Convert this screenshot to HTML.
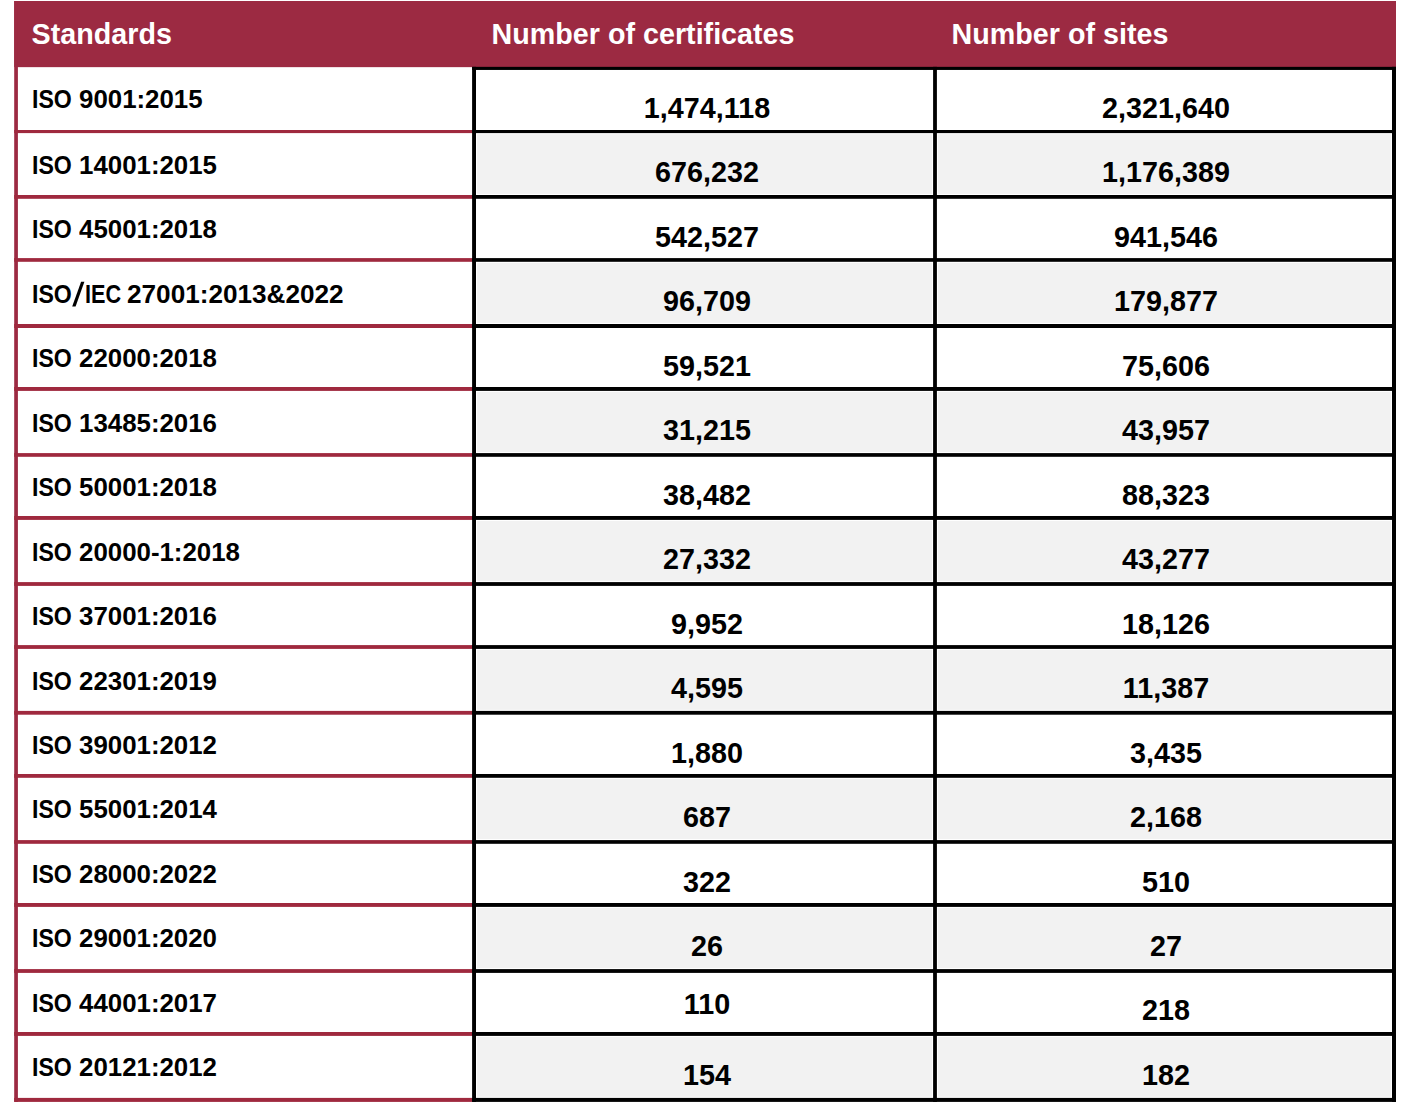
<!DOCTYPE html>
<html lang="en"><head><meta charset="utf-8"><title>ISO Survey - certificates and sites</title>
<style>
html,body{margin:0;padding:0;background:#fff;}
body{width:1416px;height:1116px;position:relative;overflow:hidden;font-family:"Liberation Sans",sans-serif;font-weight:bold;color:#000;}
div{position:absolute;white-space:nowrap;line-height:40px;}
.h{font-size:28.7px;color:#fff;}
.a{font-size:25px;transform-origin:0 0;}
.c{width:0;height:0;}
.n{position:absolute;left:0;top:0;display:block;font-size:28.6px;letter-spacing:0px;transform:translateX(-50%) scaleX(1.005);white-space:nowrap;line-height:40px;}
</style></head>
<body>
<svg width="1416" height="1116" viewBox="0 0 1416 1116" style="position:absolute;left:0;top:0">
<rect x="14.2" y="1" width="1381.8" height="66.15" fill="#9C2A42"/>
<rect x="477.1" y="134.2" width="454.9" height="59.7" fill="#F2F2F2"/>
<rect x="938" y="134.2" width="452.9" height="59.7" fill="#F2F2F2"/>
<rect x="477.1" y="262.9" width="454.9" height="60" fill="#F2F2F2"/>
<rect x="938" y="262.9" width="452.9" height="60" fill="#F2F2F2"/>
<rect x="477.1" y="392" width="454.9" height="60" fill="#F2F2F2"/>
<rect x="938" y="392" width="452.9" height="60" fill="#F2F2F2"/>
<rect x="477.1" y="521" width="454.9" height="60" fill="#F2F2F2"/>
<rect x="938" y="521" width="452.9" height="60" fill="#F2F2F2"/>
<rect x="477.1" y="650" width="454.9" height="59.8" fill="#F2F2F2"/>
<rect x="938" y="650" width="452.9" height="59.8" fill="#F2F2F2"/>
<rect x="477.1" y="778.9" width="454.9" height="60.1" fill="#F2F2F2"/>
<rect x="938" y="778.9" width="452.9" height="60.1" fill="#F2F2F2"/>
<rect x="477.1" y="908" width="454.9" height="60" fill="#F2F2F2"/>
<rect x="938" y="908" width="452.9" height="60" fill="#F2F2F2"/>
<rect x="477.1" y="1037" width="454.9" height="59.8" fill="#F2F2F2"/>
<rect x="938" y="1037" width="452.9" height="59.8" fill="#F2F2F2"/>
<rect x="14.2" y="1" width="3.7" height="1100.9" fill="#9C2A42"/>
<rect x="14.2" y="130" width="457.9" height="3.1" fill="#9F293E"/>
<rect x="14.2" y="195" width="457.9" height="3.8" fill="#9F293E"/>
<rect x="14.2" y="258.1" width="457.9" height="3.7" fill="#9F293E"/>
<rect x="14.2" y="324" width="457.9" height="4" fill="#9F293E"/>
<rect x="14.2" y="387" width="457.9" height="3.9" fill="#9F293E"/>
<rect x="14.2" y="453.1" width="457.9" height="3.7" fill="#9F293E"/>
<rect x="14.2" y="516" width="457.9" height="3.9" fill="#9F293E"/>
<rect x="14.2" y="582.1" width="457.9" height="3.8" fill="#9F293E"/>
<rect x="14.2" y="645.1" width="457.9" height="3.8" fill="#9F293E"/>
<rect x="14.2" y="710.9" width="457.9" height="3.8" fill="#9F293E"/>
<rect x="14.2" y="774" width="457.9" height="3.8" fill="#9F293E"/>
<rect x="14.2" y="840.1" width="457.9" height="3.7" fill="#9F293E"/>
<rect x="14.2" y="903" width="457.9" height="3.9" fill="#9F293E"/>
<rect x="14.2" y="969.1" width="457.9" height="3.8" fill="#9F293E"/>
<rect x="14.2" y="1032" width="457.9" height="3.9" fill="#9F293E"/>
<rect x="14.2" y="1097.9" width="457.9" height="4" fill="#9F293E"/>
<rect x="472.1" y="66.85" width="923.9" height="3.1" fill="#000"/>
<rect x="472.1" y="130" width="923.9" height="3.1" fill="#000"/>
<rect x="472.1" y="195" width="923.9" height="3.8" fill="#000"/>
<rect x="472.1" y="258.1" width="923.9" height="3.7" fill="#000"/>
<rect x="472.1" y="324" width="923.9" height="4" fill="#000"/>
<rect x="472.1" y="387" width="923.9" height="3.9" fill="#000"/>
<rect x="472.1" y="453.1" width="923.9" height="3.7" fill="#000"/>
<rect x="472.1" y="516" width="923.9" height="3.9" fill="#000"/>
<rect x="472.1" y="582.1" width="923.9" height="3.8" fill="#000"/>
<rect x="472.1" y="645.1" width="923.9" height="3.8" fill="#000"/>
<rect x="472.1" y="710.9" width="923.9" height="3.8" fill="#000"/>
<rect x="472.1" y="774" width="923.9" height="3.8" fill="#000"/>
<rect x="472.1" y="840.1" width="923.9" height="3.7" fill="#000"/>
<rect x="472.1" y="903" width="923.9" height="3.9" fill="#000"/>
<rect x="472.1" y="969.1" width="923.9" height="3.8" fill="#000"/>
<rect x="472.1" y="1032" width="923.9" height="3.9" fill="#000"/>
<rect x="472.1" y="1097.9" width="923.9" height="4" fill="#000"/>
<rect x="472.1" y="66.85" width="3.9" height="1035.05" fill="#000"/>
<rect x="933.1" y="66.85" width="3.8" height="1035.05" fill="#000"/>
<rect x="1392" y="66.85" width="4" height="1035.05" fill="#000"/>
<polygon points="81.1,281.8 84.4,281.8 75.6,306.6 72.2,306.6" fill="#000"/>
</svg>
<div class="h" style="left:31.6px;top:14px;">Standards</div>
<div class="h" style="left:491.6px;top:14px;">Number of certificates</div>
<div class="h" style="left:951.6px;top:14px;">Number of sites</div>
<div class="a" style="left:31.8px;top:79px;transform:scaleX(0.925)">ISO</div>
<div class="a" style="left:78.8px;top:79px;transform:scaleX(1.034)">9001:2015</div>
<div class="c" style="left:706.7px;top:88px"><span class="n">1,474,118</span></div>
<div class="c" style="left:1166.4px;top:88px"><span class="n">2,321,640</span></div>
<div class="a" style="left:31.8px;top:145px;transform:scaleX(0.925)">ISO</div>
<div class="a" style="left:78.8px;top:145px;transform:scaleX(1.034)">14001:2015</div>
<div class="c" style="left:706.7px;top:152px"><span class="n">676,232</span></div>
<div class="c" style="left:1166.4px;top:152px"><span class="n">1,176,389</span></div>
<div class="a" style="left:31.8px;top:209px;transform:scaleX(0.925)">ISO</div>
<div class="a" style="left:78.8px;top:209px;transform:scaleX(1.034)">45001:2018</div>
<div class="c" style="left:706.7px;top:217px"><span class="n">542,527</span></div>
<div class="c" style="left:1166.4px;top:217px"><span class="n">941,546</span></div>
<div class="a" style="left:31.8px;top:274px;transform:scaleX(0.925)">ISO</div>
<div class="a" style="left:85.4px;top:274px;transform:scaleX(0.865)">IEC</div>
<div class="a" style="left:127.3px;top:274px;transform:scaleX(1.046)">27001:2013&amp;2022</div>
<div class="c" style="left:706.7px;top:281px"><span class="n">96,709</span></div>
<div class="c" style="left:1166.4px;top:281px"><span class="n">179,877</span></div>
<div class="a" style="left:31.8px;top:338px;transform:scaleX(0.925)">ISO</div>
<div class="a" style="left:78.8px;top:338px;transform:scaleX(1.034)">22000:2018</div>
<div class="c" style="left:706.7px;top:346px"><span class="n">59,521</span></div>
<div class="c" style="left:1166.4px;top:346px"><span class="n">75,606</span></div>
<div class="a" style="left:31.8px;top:403px;transform:scaleX(0.925)">ISO</div>
<div class="a" style="left:78.8px;top:403px;transform:scaleX(1.034)">13485:2016</div>
<div class="c" style="left:706.7px;top:410px"><span class="n">31,215</span></div>
<div class="c" style="left:1166.4px;top:410px"><span class="n">43,957</span></div>
<div class="a" style="left:31.8px;top:467px;transform:scaleX(0.925)">ISO</div>
<div class="a" style="left:78.8px;top:467px;transform:scaleX(1.034)">50001:2018</div>
<div class="c" style="left:706.7px;top:475px"><span class="n">38,482</span></div>
<div class="c" style="left:1166.4px;top:475px"><span class="n">88,323</span></div>
<div class="a" style="left:31.8px;top:532px;transform:scaleX(0.925)">ISO</div>
<div class="a" style="left:78.8px;top:532px;transform:scaleX(1.034)">20000-1:2018</div>
<div class="c" style="left:706.7px;top:539px"><span class="n">27,332</span></div>
<div class="c" style="left:1166.4px;top:539px"><span class="n">43,277</span></div>
<div class="a" style="left:31.8px;top:596px;transform:scaleX(0.925)">ISO</div>
<div class="a" style="left:78.8px;top:596px;transform:scaleX(1.034)">37001:2016</div>
<div class="c" style="left:706.7px;top:604px"><span class="n">9,952</span></div>
<div class="c" style="left:1166.4px;top:604px"><span class="n">18,126</span></div>
<div class="a" style="left:31.8px;top:661px;transform:scaleX(0.925)">ISO</div>
<div class="a" style="left:78.8px;top:661px;transform:scaleX(1.034)">22301:2019</div>
<div class="c" style="left:706.7px;top:668px"><span class="n">4,595</span></div>
<div class="c" style="left:1166.4px;top:668px"><span class="n">11,387</span></div>
<div class="a" style="left:31.8px;top:725px;transform:scaleX(0.925)">ISO</div>
<div class="a" style="left:78.8px;top:725px;transform:scaleX(1.034)">39001:2012</div>
<div class="c" style="left:706.7px;top:733px"><span class="n">1,880</span></div>
<div class="c" style="left:1166.4px;top:733px"><span class="n">3,435</span></div>
<div class="a" style="left:31.8px;top:789px;transform:scaleX(0.925)">ISO</div>
<div class="a" style="left:78.8px;top:789px;transform:scaleX(1.034)">55001:2014</div>
<div class="c" style="left:706.7px;top:797px"><span class="n">687</span></div>
<div class="c" style="left:1166.4px;top:797px"><span class="n">2,168</span></div>
<div class="a" style="left:31.8px;top:854px;transform:scaleX(0.925)">ISO</div>
<div class="a" style="left:78.8px;top:854px;transform:scaleX(1.034)">28000:2022</div>
<div class="c" style="left:706.7px;top:862px"><span class="n">322</span></div>
<div class="c" style="left:1166.4px;top:862px"><span class="n">510</span></div>
<div class="a" style="left:31.8px;top:918px;transform:scaleX(0.925)">ISO</div>
<div class="a" style="left:78.8px;top:918px;transform:scaleX(1.034)">29001:2020</div>
<div class="c" style="left:706.7px;top:926px"><span class="n">26</span></div>
<div class="c" style="left:1166.4px;top:926px"><span class="n">27</span></div>
<div class="a" style="left:31.8px;top:983px;transform:scaleX(0.925)">ISO</div>
<div class="a" style="left:78.8px;top:983px;transform:scaleX(1.034)">44001:2017</div>
<div class="c" style="left:706.7px;top:984px"><span class="n">110</span></div>
<div class="c" style="left:1166.4px;top:990px"><span class="n">218</span></div>
<div class="a" style="left:31.8px;top:1047px;transform:scaleX(0.925)">ISO</div>
<div class="a" style="left:78.8px;top:1047px;transform:scaleX(1.034)">20121:2012</div>
<div class="c" style="left:706.7px;top:1055px"><span class="n">154</span></div>
<div class="c" style="left:1166.4px;top:1055px"><span class="n">182</span></div>
</body></html>
